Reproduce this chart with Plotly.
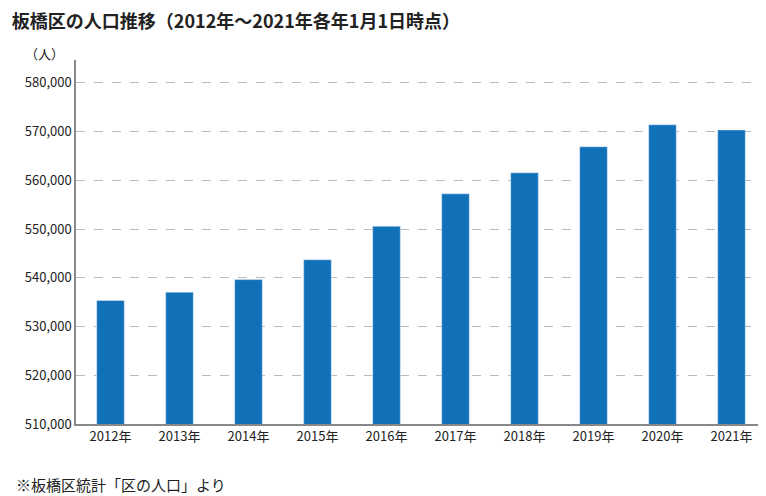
import plotly.graph_objects as go

years = ["2012年", "2013年", "2014年", "2015年", "2016年",
         "2017年", "2018年", "2019年", "2020年", "2021年"]
population = [535340, 537060, 539630, 543710, 550580,
              557240, 561540, 566900, 571410, 570340]
tick_vals = [510000, 520000, 530000, 540000, 550000, 560000, 570000, 580000]

font = "Noto Sans CJK JP"

fig = go.Figure(go.Bar(x=years, y=population, marker_color="#1070b8", width=0.4))

fig.update_layout(
    width=766, height=496,
    margin=dict(l=68, r=8, t=52, b=80),
    plot_bgcolor="white", paper_bgcolor="white",
    font=dict(family=font, size=13, color="#222"),
    showlegend=False,
    title=dict(text="<b>板橋区の人口推移（2012年～2021年各年1月1日時点）</b>",
               x=0.005, xanchor="left", y=0.985, yanchor="top",
               font=dict(size=18, color="#222")),
)
fig.update_yaxes(
    range=[510000, 584700], tickvals=tick_vals, tickformat=",",
    showline=True, linecolor="#888", linewidth=1.5,
    gridcolor="#bbb", griddash="dash", zeroline=False, ticks="",
)
fig.update_xaxes(showline=True, linecolor="#888", linewidth=1.5, ticks="")

fig.add_annotation(text="（人）", xref="paper", yref="paper", x=-0.045, y=1.05,
                   showarrow=False, xanchor="center", font=dict(size=13))
fig.add_annotation(text="※板橋区統計「区の人口」より", xref="paper", yref="paper",
                   x=-0.09, y=-0.167, xanchor="left", yanchor="middle",
                   showarrow=False, font=dict(size=15))

fig.write_html("out.html")
